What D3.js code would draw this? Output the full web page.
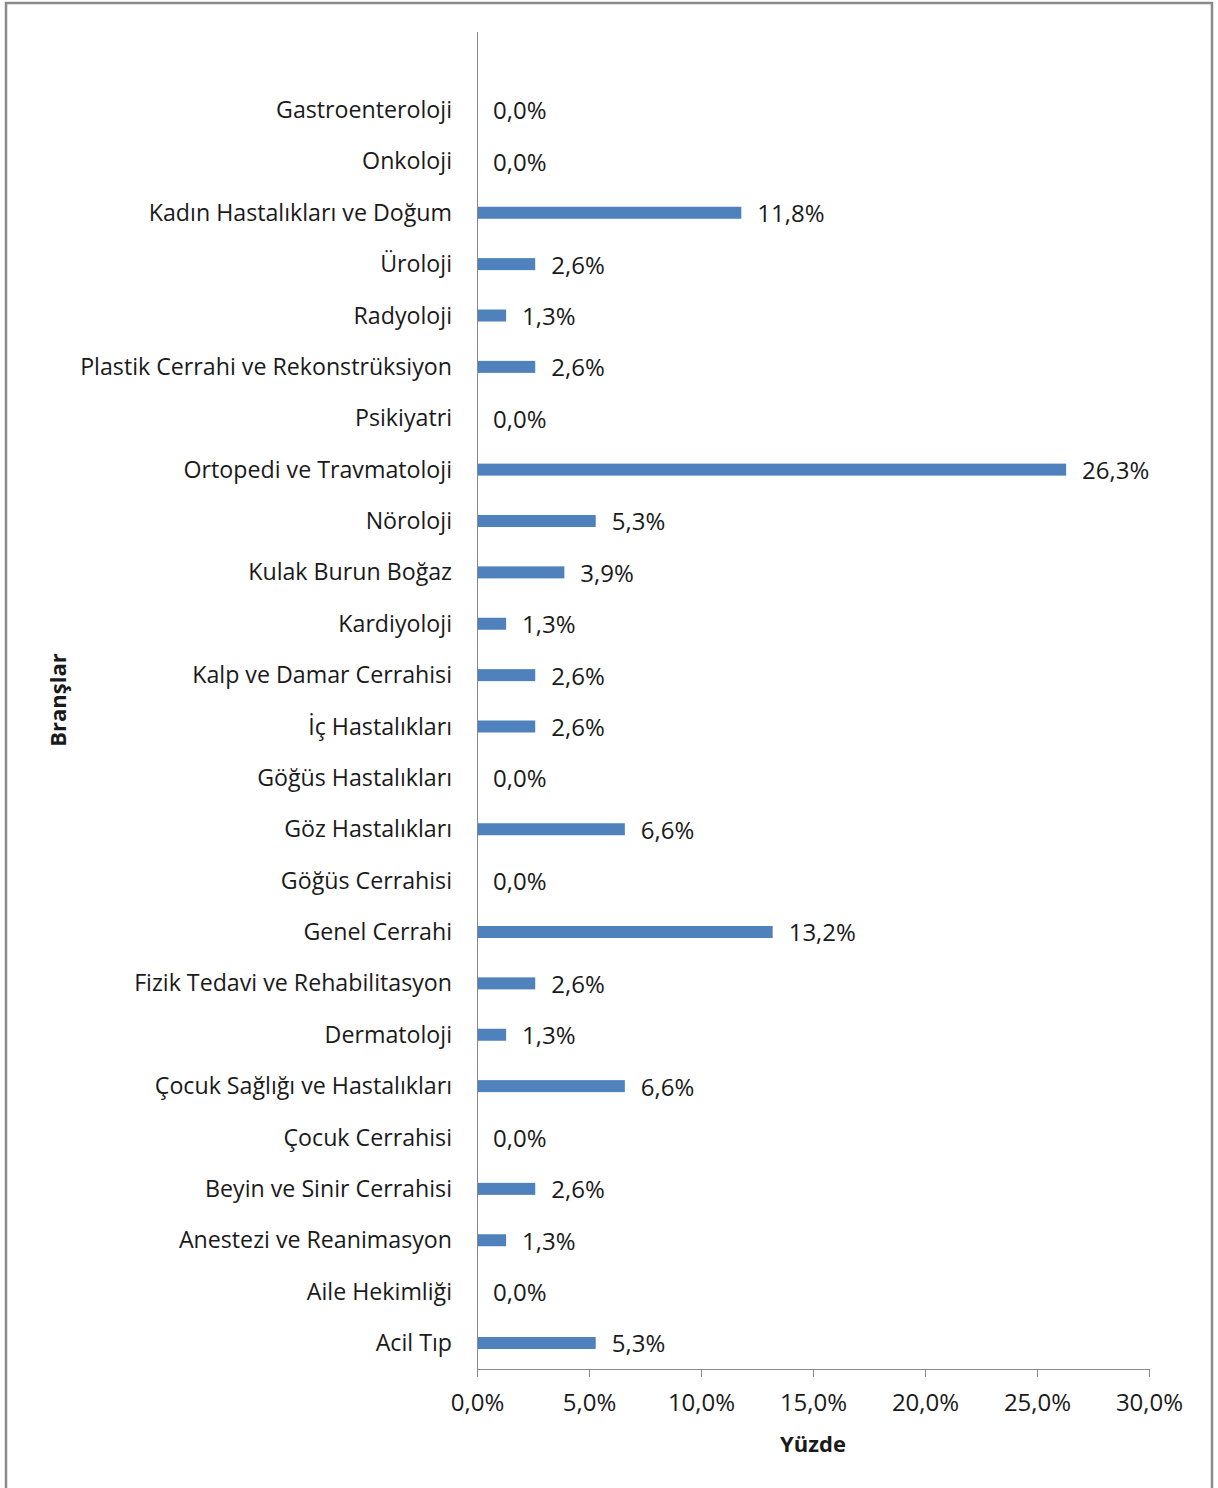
<!DOCTYPE html>
<html>
<head>
<meta charset="utf-8">
<script src="https://cdnjs.cloudflare.com/ajax/libs/d3/7.8.5/d3.min.js"></script>
<style>
  html, body { margin: 0; padding: 0; background: #fff; }
  svg { display: block; }
  text { font-family: "Open Sans", "Noto Sans", sans-serif; fill: #1a1a1a; }
</style>
</head>
<body>
<svg id="chart" width="1218" height="1488"></svg>
<script>
// Branches, listed top to bottom as drawn
const categories = [
  "Gastroenteroloji",
  "Onkoloji",
  "Kadın Hastalıkları ve Doğum",
  "Üroloji",
  "Radyoloji",
  "Plastik Cerrahi ve Rekonstrüksiyon",
  "Psikiyatri",
  "Ortopedi ve Travmatoloji",
  "Nöroloji",
  "Kulak Burun Boğaz",
  "Kardiyoloji",
  "Kalp ve Damar Cerrahisi",
  "İç Hastalıkları",
  "Göğüs Hastalıkları",
  "Göz Hastalıkları",
  "Göğüs Cerrahisi",
  "Genel Cerrahi",
  "Fizik Tedavi ve Rehabilitasyon",
  "Dermatoloji",
  "Çocuk Sağlığı ve Hastalıkları",
  "Çocuk Cerrahisi",
  "Beyin ve Sinir Cerrahisi",
  "Anestezi ve Reanimasyon",
  "Aile Hekimliği",
  "Acil Tıp"
];

// Share of each branch, in percent
const values = [
  0.0, 0.0, 11.8, 2.6, 1.3, 2.6, 0.0, 26.3, 5.3, 3.9, 1.3, 2.6, 2.6,
  0.0, 6.6, 0.0, 13.2, 2.6, 1.3, 6.6, 0.0, 2.6, 1.3, 0.0, 5.3
];

const xTicks = [0, 5, 10, 15, 20, 25, 30];
const xTitle = "Yüzde";
const yTitle = "Branşlar";

const fmt = v => v.toFixed(1).replace(".", ",") + "%";

const svg = d3.select("#chart");

// outer frame
svg.append("rect")
  .attr("x", 6).attr("y", 3)
  .attr("width", 1206).attr("height", 1500)
  .attr("fill", "none")
  .attr("stroke", "#8a8a8a")
  .attr("stroke-width", 2.5);

const plot = { left: 477, right: 1149, top: 32, bottom: 1369 };

const x = d3.scaleLinear().domain([0, 30]).range([plot.left, plot.right]);

// one row per branch, centred on its point
const y = d3.scalePoint()
  .domain(categories)
  .range([110, 1343])
  .padding(0);

const barH = 12;

// bars
svg.append("g").selectAll("rect")
  .data(categories)
  .join("rect")
  .attr("x", x(0))
  .attr("y", d => y(d) - barH / 2)
  .attr("width", (d, i) => x(values[i]) - x(0))
  .attr("height", barH)
  .attr("fill", "#4f81bd");

// vertical category axis line
svg.append("line")
  .attr("x1", plot.left + 0.5).attr("x2", plot.left + 0.5)
  .attr("y1", plot.top).attr("y2", plot.bottom)
  .attr("stroke", "#888").attr("stroke-width", 1);

// category labels
svg.append("g").selectAll("text")
  .data(categories)
  .join("text")
  .attr("x", 452)
  .attr("y", d => y(d))
  .attr("dy", "0.35em")
  .attr("text-anchor", "end")
  .attr("font-size", 23.2)
  .text(d => d);

// value labels
svg.append("g").selectAll("text")
  .data(categories)
  .join("text")
  .attr("x", (d, i) => x(values[i]) + 16)
  .attr("y", d => y(d) + 1)
  .attr("dy", "0.35em")
  .attr("font-size", 24)
  .text((d, i) => fmt(values[i]));

// value axis
const xAxis = d3.axisBottom(x)
  .tickValues(xTicks)
  .tickSize(8)
  .tickSizeOuter(0)
  .tickFormat(fmt);

const gx = svg.append("g")
  .attr("transform", `translate(0,${plot.bottom})`)
  .call(xAxis);
gx.attr("font-family", null).attr("font-size", null);
gx.select(".domain").attr("stroke", "#888");
gx.selectAll(".tick line").attr("stroke", "#888");
gx.selectAll(".tick text")
  .attr("font-size", 24)
  .attr("fill", "#1a1a1a")
  .attr("y", 34)
  .attr("dy", "0.35em");

// axis titles
svg.append("text")
  .attr("x", 813).attr("y", 1444)
  .attr("dy", "0.35em")
  .attr("text-anchor", "middle")
  .attr("font-size", 22)
  .attr("font-weight", "bold")
  .text(xTitle);

svg.append("text")
  .attr("transform", "translate(58,700) rotate(-90)")
  .attr("dy", "0.35em")
  .attr("text-anchor", "middle")
  .attr("font-size", 22)
  .attr("font-weight", "bold")
  .text(yTitle);
</script>
</body>
</html>
